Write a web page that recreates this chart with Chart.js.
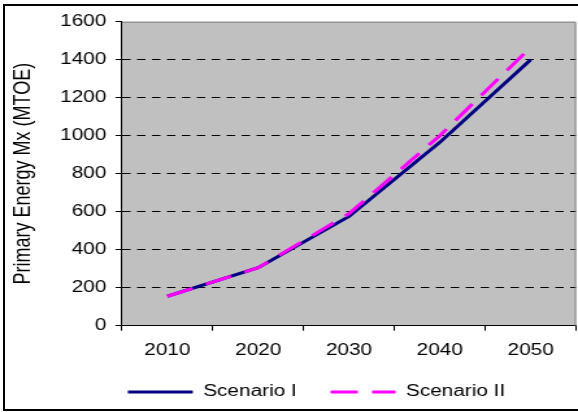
<!DOCTYPE html>
<html>
<head>
<meta charset="utf-8">
<script src="https://cdn.jsdelivr.net/npm/chart.js@4"></script>
<style>
  html, body { margin: 0; padding: 0; background: #fff; }
  #page { position: relative; width: 578px; height: 412px; overflow: hidden; background: #fff; }
  #frame { position: absolute; left: 3px; top: 4px; width: 620px; height: 403px; border: 2px solid #000; }
  /* the chart is laid out narrower and widened, giving the wide lettering of the original sheet */
  #wrap { position: absolute; left: 0; top: 0; width: 445px; height: 412px;
          transform: scaleX(1.29888); transform-origin: 0 0; }
</style>
</head>
<body>
<div id="page">
  <div id="frame"></div>
  <div id="wrap"><canvas id="c"></canvas></div>
</div>
<script>
// Primary energy mix projections (MTOE)
const years = ['2010', '2020', '2030', '2040', '2050'];
const scenarioI = [155, 305, 575, 965, 1400];
const scenarioII = [155, 305, 590, 1000, 1465];
const yTicks = [0, 200, 400, 600, 800, 1000, 1200, 1400, 1600];

const FONT = 'Liberation Sans, Arial, sans-serif';

// grey plot area with a thin grey frame on top and right
const plotArea = {
  id: 'plotArea',
  beforeDraw(chart) {
    const { ctx, chartArea: a } = chart;
    ctx.save();
    ctx.fillStyle = '#c0c0c0';
    ctx.fillRect(a.left, a.top, a.right - a.left, a.bottom - a.top);
    ctx.restore();
  },
  beforeDatasetsDraw(chart) {
    const { ctx, chartArea: a } = chart;
    ctx.save();
    ctx.strokeStyle = '#808080';
    ctx.lineWidth = 1;
    ctx.beginPath();
    ctx.moveTo(a.left, a.top + 0.5);
    ctx.lineTo(a.right - 0.5, a.top + 0.5);
    ctx.lineTo(a.right - 0.5, a.bottom);
    ctx.stroke();
    ctx.restore();
  }
};

// move the legend row a little to the right of the canvas centre
const legendShift = {
  id: 'legendShift',
  afterLayout(chart) {
    const lg = chart.legend;
    if (lg) { lg.left += 21.6; lg.right += 21.6; }
  }
};

// legend samples drawn as lines carrying each series' own width and dash
function legendLabels(chart) {
  const base = Chart.defaults.plugins.legend.labels.generateLabels(chart);
  return base.map(item => {
    const ds = chart.data.datasets[item.datasetIndex];
    item.lineDash = ds.borderDash || [];
    item.lineWidth = ds.borderWidth;
    item.strokeStyle = ds.borderColor;
    return item;
  });
}

new Chart(document.getElementById('c'), {
  type: 'line',
  data: {
    labels: years,
    datasets: [
      {
        label: 'Scenario I',
        data: scenarioI,
        borderColor: '#000080',
        backgroundColor: '#000080',
        borderWidth: 3,
        pointRadius: 0,
        tension: 0,
        order: 1
      },
      {
        label: 'Scenario II',
        data: scenarioII,
        borderColor: '#ff00ff',
        backgroundColor: '#ff00ff',
        borderWidth: 3,
        borderDash: [21, 11],
        pointRadius: 0,
        tension: 0,
        order: 0
      }
    ]
  },
  options: {
    responsive: true,
    maintainAspectRatio: false,
    animation: false,
    devicePixelRatio: 1,
    layout: { padding: { top: 21.7, right: 0.8, bottom: 2, left: 0 } },
    plugins: {
      tooltip: { enabled: false },
      legend: {
        position: 'bottom',
        labels: {
          font: { family: FONT, size: 16 },
          color: '#000',
          usePointStyle: true,
          pointStyle: 'line',
          pointStyleWidth: 50,
          padding: 26,
          generateLabels: legendLabels,
          sort: (a, b) => a.datasetIndex - b.datasetIndex
        }
      }
    },
    scales: {
      x: {
        type: 'category',
        offset: true,
        afterFit(scale) { scale.height = 32.3; },
        grid: {
          offset: true,
          drawOnChartArea: false,
          drawTicks: true,
          tickLength: 5,
          tickColor: '#000',
          color: '#000'
        },
        border: { display: true, color: '#000', width: 1 },
        ticks: {
          font: { family: FONT, size: 16 },
          color: '#000',
          padding: 10,
          maxRotation: 0
        }
      },
      y: {
        min: 0,
        max: 1600,
        afterBuildTicks(scale) { scale.ticks = yTicks.map(v => ({ value: v })); },
        afterFit(scale) { scale.width = 93.9; },
        grid: {
          color: c => (c.tick && (c.tick.value === 0 || c.tick.value === 1600)) ? 'rgba(0,0,0,0)' : '#000',
          lineWidth: 1,
          tickLength: 5,
          tickColor: '#000'
        },
        border: { display: true, color: '#000', width: 1, dash: [6.5, 5] },
        ticks: {
          font: { family: FONT, size: 16 },
          color: '#000',
          padding: 7,
          callback: v => String(v)
        },
        title: {
          display: true,
          text: 'Primary Energy Mx (MTOE)',
          font: { family: FONT, size: 18 },
          color: '#000',
          padding: { top: 7, bottom: 0 }
        }
      }
    }
  },
  plugins: [plotArea, legendShift]
});
</script>
</body>
</html>
